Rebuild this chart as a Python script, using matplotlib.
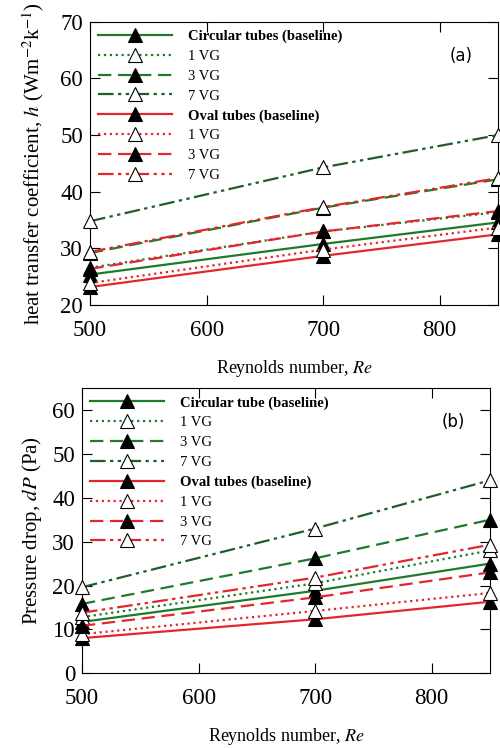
import numpy as np
import matplotlib
matplotlib.use("Agg")
from matplotlib import pyplot as plt

plt.rcParams['font.family'] = ['Liberation Serif', 'DejaVu Serif']
plt.rcParams['mathtext.fontset'] = 'stix'

re = [500, 700, 850]

# heat transfer coefficient h (W m^-2 K^-1)
h_circ_base = [25.4, 30.8, 34.6]
h_circ_1vg = [26.6, 33.0, 36.4]
h_circ_3vg = [29.2, 37.2, 42.2]
h_circ_7vg = [34.8, 44.3, 50.0]
h_oval_base = [23.2, 28.7, 32.5]
h_oval_1vg = [23.9, 29.8, 33.7]
h_oval_3vg = [26.4, 33.0, 36.6]
h_oval_7vg = [29.4, 37.3, 42.4]

# pressure drop dP (Pa)
dp_circ_base = [11.7, 18.8, 25.0]
dp_circ_1vg = [12.8, 20.5, 28.0]
dp_circ_3vg = [15.8, 26.2, 35.0]
dp_circ_7vg = [19.6, 33.0, 44.0]
dp_oval_base = [8.0, 12.3, 16.3]
dp_oval_1vg = [8.9, 14.2, 18.3]
dp_oval_3vg = [10.8, 17.3, 23.0]
dp_oval_7vg = [13.8, 21.8, 29.3]

green = '#1f7a2a'
dgreen = '#1d5e2a'
red = '#e3262b'
ddot = (0, (7, 2, 1.5, 2, 1.5, 2))

styles = [
    (green, '-', 'k'),
    (green, ':', 'w'),
    (green, (0, (6, 3)), 'k'),
    (dgreen, ddot, 'w'),
    (red, '-', 'k'),
    (red, ':', 'w'),
    (red, (0, (6, 3)), 'k'),
    (red, ddot, 'w'),
]


def draw(ax, series, labels, ylim, yticks, ylabel, ylpad, tag, tagxy):
    for y, lab, (c, ls, fc) in zip(series, labels, styles):
        ax.plot(re, y, color=c, linestyle=ls, lw=1.6, marker='^', ms=10,
                mfc=fc, mec='k', mew=0.8, label=lab, clip_on=False, zorder=3)
    ax.set_xlim(500, 850)
    ax.set_ylim(*ylim)
    ax.set_xticks([500, 600, 700, 800])
    ax.set_yticks(yticks)
    ax.tick_params(direction='in', length=7, width=0.8, top=True, right=True,
                   labelsize=16.5)
    ax.tick_params(axis='x', pad=11)
    ax.tick_params(axis='y', pad=5)
    ax.set_xlabel('Reynolds number, $Re$', fontsize=13, labelpad=12)
    ax.set_ylabel(ylabel, fontsize=ylpad[0], labelpad=ylpad[1])
    ax.text(tagxy[0], tagxy[1], tag, transform=ax.transAxes, fontsize=12,
            family='DejaVu Sans', ha='center', va='center')
    leg = ax.legend(loc='upper left', frameon=False, fontsize=10.5,
                    handlelength=5.1, labelspacing=0.45, borderaxespad=0.3,
                    borderpad=0.25, handletextpad=1.1)
    for t in leg.get_texts():
        if 'baseline' in t.get_text():
            t.set_fontweight('bold')


fig = plt.figure(figsize=(5, 7.48), dpi=100)
ax1 = fig.add_axes([0.18, 0.592, 0.816, 0.379])
ax2 = fig.add_axes([0.164, 0.100, 0.816, 0.381])

labels_a = ['Circular tubes (baseline)', '1 VG', '3 VG', '7 VG',
            'Oval tubes (baseline)', '1 VG', '3 VG', '7 VG']
labels_b = ['Circular tube (baseline)', '1 VG', '3 VG', '7 VG',
            'Oval tubes (baseline)', '1 VG', '3 VG', '7 VG']

draw(ax1, [h_circ_base, h_circ_1vg, h_circ_3vg, h_circ_7vg,
           h_oval_base, h_oval_1vg, h_oval_3vg, h_oval_7vg],
     labels_a, (20, 70), [20, 30, 40, 50, 60, 70],
     'heat transfer coefficient, $h$ (Wm$^{-2}$k$^{-1}$)', (15, 10),
     '(a)', (0.91, 0.88))
draw(ax2, [dp_circ_base, dp_circ_1vg, dp_circ_3vg, dp_circ_7vg,
           dp_oval_base, dp_oval_1vg, dp_oval_3vg, dp_oval_7vg],
     labels_b, (0, 65), [0, 10, 20, 30, 40, 50, 60],
     'Pressure drop, $dP$ (Pa)', (15, 6), '(b)', (0.91, 0.88))

fig.savefig('out.png', dpi=100)
